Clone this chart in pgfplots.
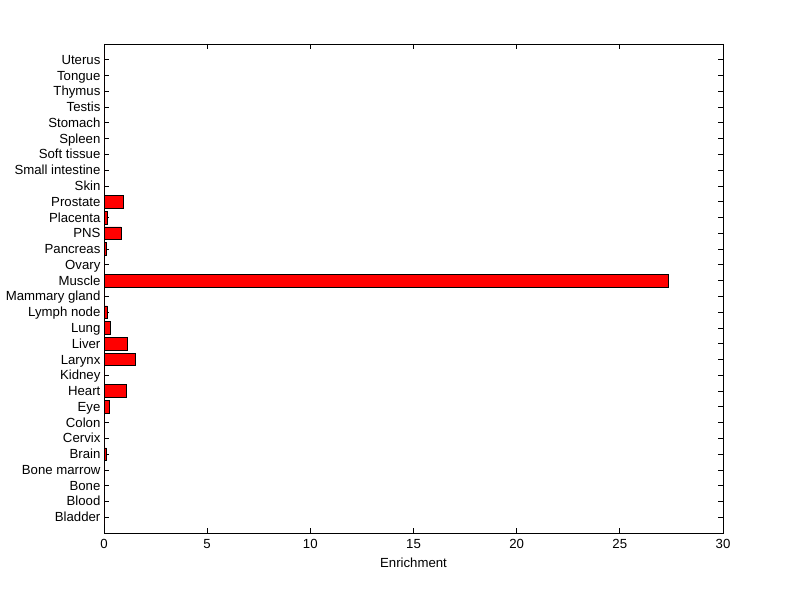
\documentclass[border=0pt]{standalone}
\usepackage{fontspec}
\setmainfont{Liberation Sans}
\usepackage{pgfplots}
\pgfplotsset{compat=1.18}
\begin{document}
\fontsize{13.2}{15}\selectfont
\begin{tikzpicture}[x=1pt,y=1pt]
\path[use as bounding box] (0,0) rectangle (800,599);
\begin{axis}[
  at={(104pt,66pt)}, anchor=south west,
  scale only axis, width=619pt, height=489pt,
  xbar, bar width=0.8,
  xmin=0, xmax=30, ymin=-1, ymax=30,
  xtick={0,5,10,15,20,25,30},
  ytick={0,...,29},
  yticklabels={Bladder,Blood,Bone,Bone marrow,Brain,Cervix,Colon,Eye,Heart,Kidney,Larynx,Liver,Lung,Lymph node,Mammary gland,Muscle,Ovary,Pancreas,PNS,Placenta,Prostate,Skin,Small intestine,Soft tissue,Spleen,Stomach,Testis,Thymus,Tongue,Uterus},
  tick align=inside, major tick length=5pt,
  xtick pos=both, ytick pos=both,
  tick style={black, line width=0.8pt},
  axis line style={line width=0.8pt},
  ticklabel style={font=\fontsize{13.2}{15}\selectfont},
  /pgf/number format/assume math mode=true,
  yticklabel style={xshift=1pt, text height=1.6ex, text depth=0.3ex},
  xticklabel style={yshift=-2pt},
  xlabel={Enrichment},
  xlabel style={font=\fontsize{13.2}{15}\selectfont, yshift=0pt},
]
\addplot[fill=red, draw=black, line width=0.6pt] coordinates {
(0,0) (0,1) (0,2) (0,3) (0.12,4) (0,5) (0,6) (0.26,7) (1.08,8) (0,9)
(1.52,10) (1.13,11) (0.31,12) (0.16,13) (0,14) (27.34,15) (0,16) (0.1,17) (0.82,18) (0.16,19)
(0.94,20) (0,21) (0,22) (0,23) (0,24) (0,25) (0,26) (0,27) (0,28) (0,29)
};
\end{axis}
\end{tikzpicture}
\end{document}
